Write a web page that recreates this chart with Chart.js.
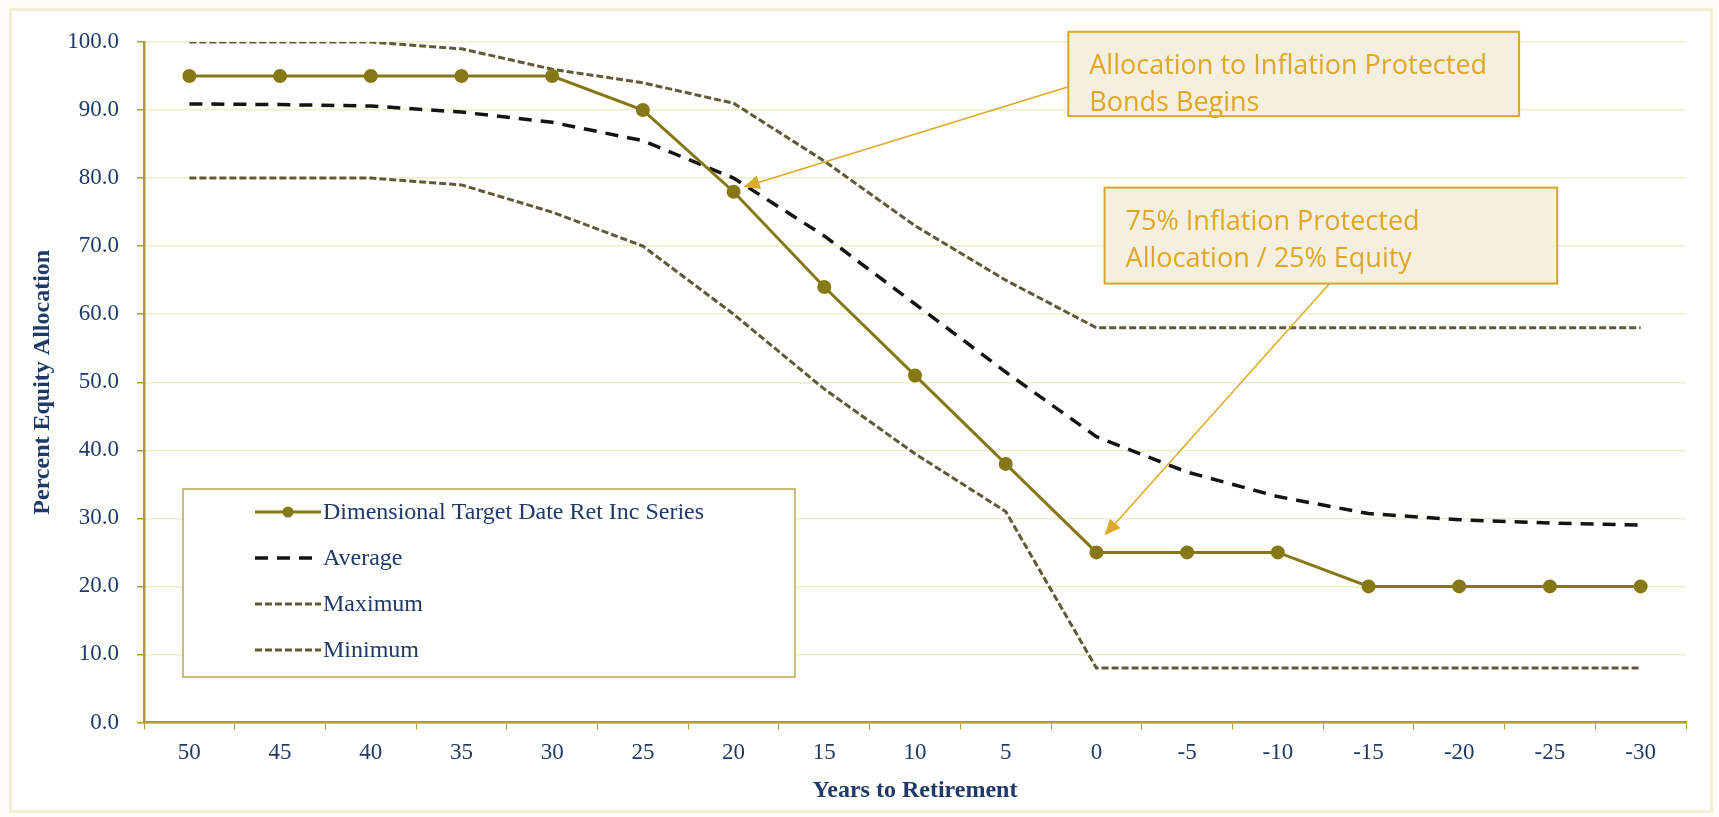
<!DOCTYPE html>
<html>
<head>
<meta charset="utf-8">
<script src="https://cdn.jsdelivr.net/npm/chart.js@4/dist/chart.umd.min.js"></script>
<style>
    html, body { margin: 0; padding: 0; background: #fdfcf6; }
    #wrap { position: relative; width: 1719px; height: 817px; }
    #frame { position: absolute; left: 9px; top: 8px; right: 6px; bottom: 4px; border: 3px solid #f2f0d4; background: #fefefc; }
    canvas { position: absolute; left: 0; top: 0; }
</style>
</head>
<body>
<div id="wrap">
    <div id="frame"></div>
    <canvas id="chart" width="1719" height="817"></canvas>
</div>
<script>
const years = ['50', '45', '40', '35', '30', '25', '20', '15', '10', '5', '0', '-5', '-10', '-15', '-20', '-25', '-30'];
const dimensional = [95, 95, 95, 95, 95, 90, 78, 64, 51, 38, 25, 25, 25, 20, 20, 20, 20];
const average = [90.9, 90.8, 90.6, 89.7, 88.2, 85.5, 80, 71.5, 61.5, 51.5, 42, 36.8, 33.2, 30.7, 29.8, 29.3, 29];
const maximum = [100, 100, 100, 99, 96, 94, 91, 82.5, 73, 65, 58, 58, 58, 58, 58, 58, 58];
const minimum = [80, 80, 80, 79, 75, 70, 60, 49, 39.5, 31, 8, 8, 8, 8, 8, 8, 8];
const seriesNames = ['Dimensional Target Date Ret Inc Series', 'Average', 'Maximum', 'Minimum'];

// callouts, placed in data units (category index, percent)
const callouts = [
    { lines: ['Allocation to Inflation Protected', 'Bonds Begins'], box: [9.69, 101.5, 14.66, 89.1], from: [9.71, 93.5], to: [6.11, 78.7] },
    { lines: ['75% Inflation Protected', 'Allocation / 25% Equity'], box: [10.09, 78.6, 15.08, 64.5], from: [12.57, 64.5], to: [10.09, 27.5] }
];

const navy = '#1f3a68';
const olive = '#877817';
const dotted = '#5e5b3a';
const gold = '#b09a3c';
const serif = '"Liberation Serif", serif';

const legendPlugin = {
    id: 'boxLegend',
    afterDraw(chart) {
        const ctx = chart.ctx;
        const a = chart.chartArea;
        const x0 = a.left + 39, y0 = a.top + 447, w = 612, h = 188;
        ctx.save();
        ctx.fillStyle = '#fefefc';
        ctx.fillRect(x0, y0, w, h);
        ctx.strokeStyle = '#bda650';
        ctx.lineWidth = 1.5;
        ctx.strokeRect(x0, y0, w, h);
        ctx.font = '24px ' + serif;
        ctx.textBaseline = 'middle';
        chart.data.datasets.forEach((ds, i) => {
            const y = y0 + 23 + i * 46;
            const sx = x0 + 72, ex = x0 + 138;
            ctx.strokeStyle = ds.borderColor;
            ctx.lineWidth = ds.borderWidth;
            ctx.setLineDash(ds.borderDash || []);
            ctx.beginPath();
            ctx.moveTo(sx, y);
            ctx.lineTo(ex, y);
            ctx.stroke();
            ctx.setLineDash([]);
            if (ds.pointRadius > 0) {
                ctx.fillStyle = ds.pointBackgroundColor;
                ctx.beginPath();
                ctx.arc((sx + ex) / 2, y, ds.pointRadius, 0, Math.PI * 2);
                ctx.fill();
            }
            ctx.fillStyle = navy;
            ctx.fillText(ds.label, ex + 2, y + 1);
        });
        ctx.restore();
    }
};

const calloutPlugin = {
    id: 'callouts',
    afterDraw(chart) {
        const ctx = chart.ctx;
        const xs = chart.scales.x, ys = chart.scales.y;
        const px = v => xs.getPixelForValue(v);
        const py = v => ys.getPixelForValue(v);
        ctx.save();
        callouts.forEach(c => {
            const l = px(c.box[0]), t = py(c.box[1]), r = px(c.box[2]), b = py(c.box[3]);
            // arrow
            const fx = px(c.from[0]), fy = py(c.from[1]);
            const tx = px(c.to[0]), ty = py(c.to[1]);
            const ang = Math.atan2(ty - fy, tx - fx);
            ctx.strokeStyle = '#dca92a';
            ctx.fillStyle = '#dca92a';
            ctx.lineWidth = 1.5;
            ctx.beginPath();
            ctx.moveTo(fx, fy);
            ctx.lineTo(tx - 12 * Math.cos(ang), ty - 12 * Math.sin(ang));
            ctx.stroke();
            ctx.beginPath();
            ctx.moveTo(tx, ty);
            ctx.lineTo(tx - 16 * Math.cos(ang) + 7 * Math.sin(ang), ty - 16 * Math.sin(ang) - 7 * Math.cos(ang));
            ctx.lineTo(tx - 16 * Math.cos(ang) - 7 * Math.sin(ang), ty - 16 * Math.sin(ang) + 7 * Math.cos(ang));
            ctx.closePath();
            ctx.fill();
            // box
            ctx.fillStyle = '#f4efde';
            ctx.fillRect(l, t, r - l, b - t);
            ctx.strokeStyle = '#d9a72a';
            ctx.lineWidth = 2;
            ctx.strokeRect(l, t, r - l, b - t);
            ctx.fillStyle = '#e0a727';
            ctx.font = '27px "Open Sans", sans-serif';
            ctx.textBaseline = 'middle';
            c.lines.forEach((line, i) => {
                ctx.fillText(line, l + 21, t + 35 + i * 37);
            });
        });
        ctx.restore();
    }
};

const ctx = document.getElementById('chart').getContext('2d');
new Chart(ctx, {
    type: 'line',
    data: {
        labels: years,
        datasets: [
            {
                label: seriesNames[0],
                data: dimensional,
                borderColor: olive,
                backgroundColor: olive,
                pointBackgroundColor: olive,
                pointBorderColor: olive,
                borderWidth: 3,
                pointRadius: 5.5,
                tension: 0
            },
            {
                label: seriesNames[1],
                data: average,
                borderColor: '#141414',
                borderWidth: 3.5,
                borderDash: [13, 9],
                pointRadius: 0,
                tension: 0
            },
            {
                label: seriesNames[2],
                data: maximum,
                borderColor: dotted,
                borderWidth: 3,
                borderDash: [7, 3],
                pointRadius: 0,
                tension: 0
            },
            {
                label: seriesNames[3],
                data: minimum,
                borderColor: dotted,
                borderWidth: 3,
                borderDash: [7, 3],
                pointRadius: 0,
                tension: 0
            }
        ]
    },
    options: {
        responsive: false,
        animation: false,
        layout: { padding: { left: 0, right: 33, top: 42, bottom: 0 } },
        plugins: {
            legend: { display: false },
            tooltip: { enabled: false }
        },
        scales: {
            x: {
                offset: true,
                grid: { offset: true, drawOnChartArea: false, drawTicks: true, tickLength: 7, tickColor: gold },
                border: { color: gold, width: 2.5 },
                ticks: { color: navy, font: { family: serif, size: 23 }, padding: 10 },
                title: { display: true, text: 'Years to Retirement', color: navy, font: { family: serif, size: 24, weight: 'bold' }, padding: { top: 4, bottom: 12 } },
                afterFit: s => { s.height = 94.5; }
            },
            y: {
                min: 0,
                max: 100,
                ticks: { stepSize: 10, color: navy, font: { family: serif, size: 23 }, padding: 18, callback: v => v.toFixed(1) },
                grid: { color: '#eef0c8', lineWidth: 1.5, tickLength: 7, tickColor: gold },
                border: { color: gold, width: 2.5 },
                title: { display: true, text: 'Percent Equity Allocation', color: navy, font: { family: serif, size: 24, weight: 'bold' }, padding: { top: 28, bottom: 4 } },
                afterFit: s => { s.width = 144; }
            }
        }
    },
    plugins: [legendPlugin, calloutPlugin]
});
</script>
</body>
</html>
